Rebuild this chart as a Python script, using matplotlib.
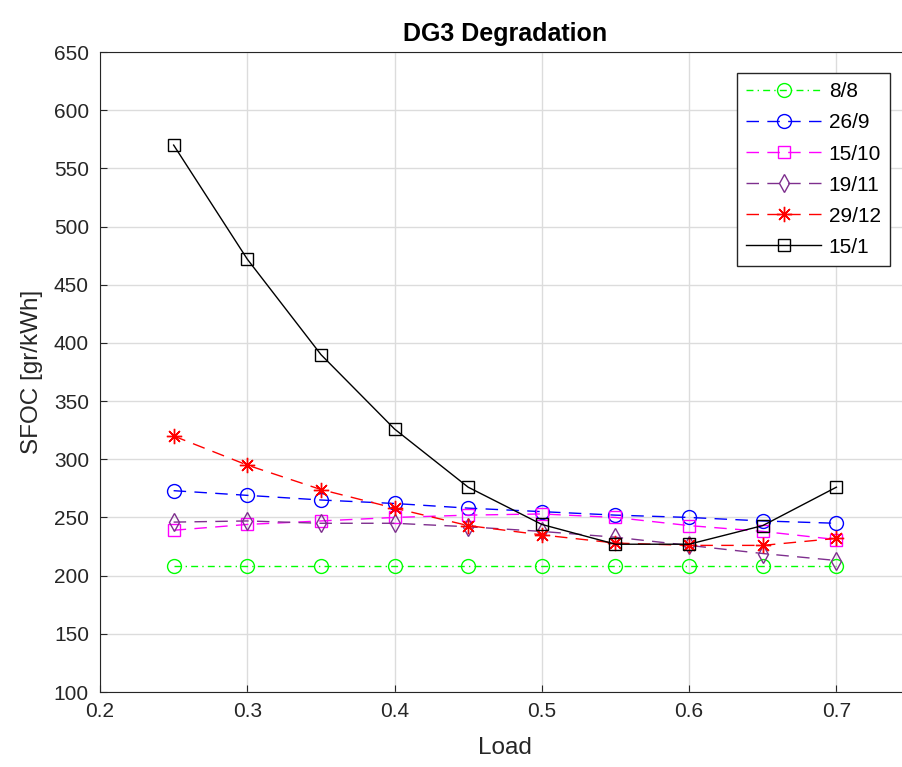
import numpy as np
import matplotlib
matplotlib.use("Agg")
import matplotlib.pyplot as plt

# data
load = [0.25, 0.30, 0.35, 0.40, 0.45, 0.50, 0.55, 0.60, 0.65, 0.70]
sfoc_8_8   = [208, 208, 208, 208, 208, 208, 208, 208, 208, 208]
sfoc_26_9  = [273, 269, 265, 262, 258, 255, 252, 250, 247, 245]
sfoc_15_10 = [239, 244, 247, 250, 252, 253, 250, 243, 238, 231]
sfoc_19_11 = [246, 247, 245, 245, 242, 238, 233, 226, 219, 213]
sfoc_29_12 = [320, 295, 274, 258, 243, 235, 228, 226, 226, 232]
sfoc_15_1  = [570, 472, 390, 326, 276, 244, 227, 227, 243, 276]

plt.rcParams['font.family'] = ['Liberation Sans', 'DejaVu Sans']

fig = plt.figure(figsize=(9.02, 7.67), dpi=100)
ax = fig.add_axes([100 / 902, 75 / 767, 810 / 902, 640 / 767])

dash = (9, 6)
dashdot = (5, 3, 1, 3)
ax.plot(load, sfoc_8_8, '-o', color='#00ff00', mfc='none', ms=10, lw=1,
        dashes=dashdot, label='8/8')
ax.plot(load, sfoc_26_9, '-o', color='#0000ff', mfc='none', ms=10, lw=1,
        dashes=dash, label='26/9')
ax.plot(load, sfoc_15_10, '-s', color='#ff00ff', mfc='none', ms=8, lw=1,
        dashes=dash, label='15/10')
ax.plot(load, sfoc_19_11, '-d', color='#7e2f8e', mfc='none', ms=9, lw=1,
        dashes=dash, label='19/11')
ax.plot(load, sfoc_29_12, '-', marker=(8, 2, 0), color='#ff0000', ms=11, lw=1,
        mew=1, dashes=dash, label='29/12')
ax.plot(load, sfoc_15_1, '-s', color='black', mfc='none', ms=8, lw=1, label='15/1')

ax.set_xlim(0.2, 0.75)
ax.set_ylim(100, 650)
ax.set_xticks([0.2, 0.3, 0.4, 0.5, 0.6, 0.7])
ax.set_xticklabels(['0.2', '0.3', '0.4', '0.5', '0.6', '0.7'])
ax.set_yticks(np.arange(100, 651, 50))
ax.grid(True, color='#dcdcdc', lw=1)
ax.set_axisbelow(True)
ax.tick_params(labelsize=15, colors='#262626', direction='in', length=5)
ax.tick_params(axis='y', pad=8)
ax.tick_params(axis='x', pad=7)
for s in ax.spines.values():
    s.set_color('#262626')

ax.set_xlabel('Load', fontsize=17.5, color='#262626', labelpad=12)
ax.set_ylabel('SFOC [gr/kWh]', fontsize=17.5, color='#262626', labelpad=8)
ax.set_title('DG3 Degradation', fontsize=18, fontweight='bold', pad=8)

leg = ax.legend(loc='upper left', bbox_to_anchor=(637 / 810, 619 / 640), fontsize=15,
                fancybox=False, edgecolor='#262626', framealpha=1,
                handlelength=3.6, handletextpad=0.35, borderpad=0.45,
                labelspacing=0.58, borderaxespad=0)
leg.get_frame().set_linewidth(1)

fig.savefig('out.png', dpi=100)
